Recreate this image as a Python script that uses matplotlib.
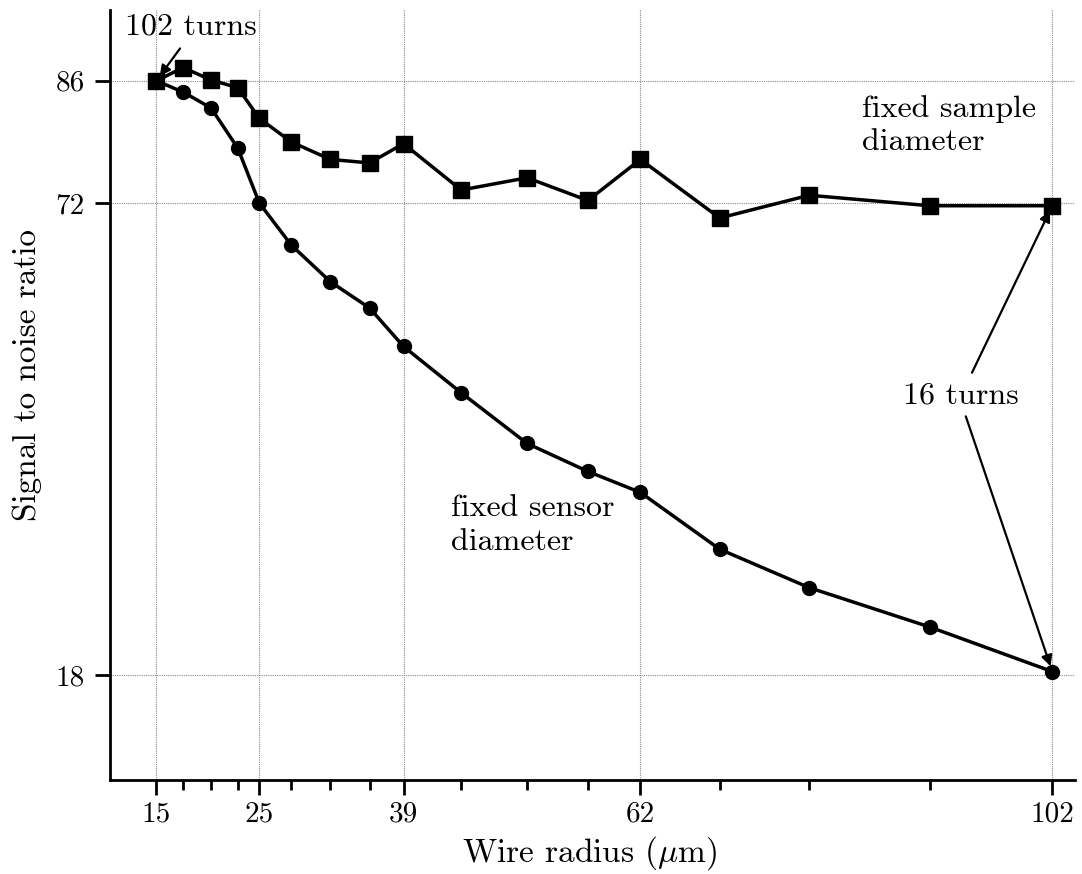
import numpy as np
import matplotlib
matplotlib.use("Agg")
import matplotlib.pyplot as plt

# wire radius (um) for each coil, 102 turns down to 16 turns
radius = [15, 17.6, 20.3, 22.9, 25, 28.1, 31.9, 35.7, 39, 44.6, 51.0, 56.9,
          62, 69.7, 78.4, 90.1, 102]
snr_sample = [86, 87.5, 86.1, 85.2, 81.7, 79.0, 77.0, 76.6, 78.8, 73.5, 74.9,
              72.3, 77.0, 70.3, 72.9, 71.7, 71.7]
snr_sensor = [86, 84.7, 82.9, 78.3, 72.0, 67.2, 63.0, 60.0, 55.6, 50.3, 44.5,
              41.3, 38.9, 32.4, 28.0, 23.5, 18.4]
x_labels = [15, 25, 39, 62, 102]
y_labels = [86, 72, 18]

plt.rcParams['font.family'] = ['cmr10', 'DejaVu Serif']
plt.rcParams['axes.formatter.use_mathtext'] = True
plt.rcParams['mathtext.fontset'] = 'cm'

fig = plt.figure(figsize=(10.82, 8.74), dpi=100)
ax = fig.add_axes([0.1017, 0.1076, 0.8918, 0.881])

ax.plot(radius, snr_sample, color='black', lw=2.5, marker='s', ms=12, zorder=3)
ax.plot(radius, snr_sensor, color='black', lw=2.5, marker='o', ms=10, zorder=3)

ax.set_xlim(10.5, 104.2)
ax.set_ylim(6.0, 94.1)

ax.set_xticks(x_labels)
ax.set_xticklabels([str(v) for v in x_labels])
ax.set_xticks(radius, minor=True)
ax.set_yticks(y_labels)
ax.set_yticklabels([str(v) for v in y_labels])

ax.grid(True, which='major', color='#888888', lw=0.8, ls=(0, (1, 1)))
ax.tick_params(axis='both', which='major', direction='out', length=11, width=2,
               labelsize=21, pad=7, color='black')
ax.tick_params(axis='x', which='major', pad=4)
ax.tick_params(axis='x', which='minor', direction='out', length=7, width=2)

for s in ['top', 'right']:
    ax.spines[s].set_visible(False)
for s in ['left', 'bottom']:
    ax.spines[s].set_linewidth(2)

ax.set_xlabel(r'Wire radius ($\mu$m)', fontsize=24)
ax.set_ylabel('Signal to noise ratio', fontsize=24)
ax.xaxis.set_label_coords(0.497, -0.070)
ax.yaxis.set_label_coords(-0.071, 0.526)

arrow = dict(arrowstyle='-|>', color='black', lw=1.6, mutation_scale=16,
             shrinkA=0, shrinkB=4)

# labels
ax.text(12.0, 92.2, '102 turns', fontsize=23, va='center', ha='left')
ax.annotate('', xy=(radius[0], snr_sample[0]), xytext=(17.3, 89.7),
            arrowprops=arrow)

ax.text(83.5, 84.4, 'fixed sample\ndiameter', fontsize=23, va='top', ha='left',
        linespacing=1.28)
ax.text(43.6, 38.6, 'fixed sensor\ndiameter', fontsize=23, va='top', ha='left',
        linespacing=1.28)

ax.text(93.1, 50.0, '16 turns', fontsize=23, va='center', ha='center')
ax.annotate('', xy=(radius[-1], snr_sample[-1]), xytext=(94.2, 52.6),
            arrowprops=arrow)
ax.annotate('', xy=(radius[-1], snr_sensor[-1]), xytext=(93.6, 47.6),
            arrowprops=arrow)

fig.savefig('out.png', dpi=100)
